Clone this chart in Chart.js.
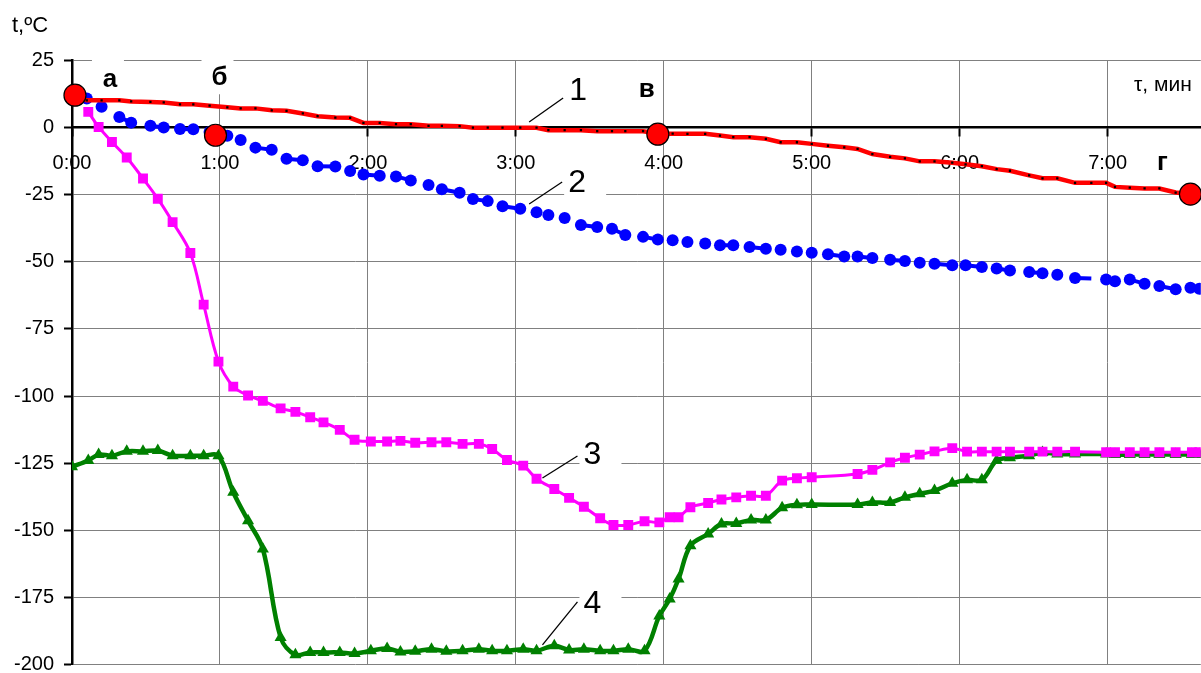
<!DOCTYPE html>
<html>
<head>
<meta charset="utf-8">
<title>t, ºC - τ, мин</title>
<script src="https://cdn.jsdelivr.net/npm/chart.js@4.4.1/dist/chart.umd.min.js"></script>
<style>
  html, body { margin: 0; padding: 0; background: #fff; overflow: hidden; }
  canvas { display: block; }
</style>
</head>
<body>
<canvas id="tempGraph" width="1201" height="673"></canvas>
<script>
// readings of curves 1 and 2, time in minutes
const timeUpper = [
    0.00, 0.10, 0.20, 0.32, 0.40, 0.53, 0.62, 0.73, 0.82, 0.93,
    1.05, 1.14, 1.24, 1.35, 1.45, 1.56, 1.66, 1.78, 1.88, 1.97,
    2.08, 2.19, 2.29, 2.41, 2.50, 2.62, 2.71, 2.81, 2.91, 3.03,
    3.14, 3.22, 3.33, 3.44, 3.55, 3.65, 3.74, 3.86, 3.96, 4.06,
    4.16, 4.28, 4.38, 4.47, 4.58, 4.69, 4.79, 4.90, 5.00, 5.11,
    5.22, 5.31, 5.41, 5.53, 5.63, 5.73, 5.83, 5.95, 6.04, 6.15,
    6.25, 6.34, 6.47, 6.56, 6.66, 6.78, 6.89, 6.99, 7.05, 7.15,
    7.25, 7.35, 7.46, 7.56, 7.62
];
const curve1 = [
    11.5, 10, 10, 10, 9.6, 9.4, 9.2, 8.5, 8.5, 8.0,
    7.4, 7.0, 7.0, 6.3, 6.1, 5.1, 4.1, 3.6, 3.5, 1.6,
    1.6, 1.1, 1.1, 0.5, 0.5, 0.4, -0.2, -0.2, -0.2, -0.2,
    -0.2, -1.1, -1.1, -1.1, -1.5, -1.5, -1.5, -1.5, -2.3, -2.4,
    -2.45, -2.45, -3.1, -3.7, -3.7, -4.3, -5.6, -5.6, -6.2, -6.9,
    -7.5, -8.1, -10, -11, -11.6, -12.7, -12.7, -13.2, -13.8, -14.5,
    -15.6, -16.2, -17.9, -19, -19, -20.7, -20.7, -20.7, -22.2, -22.5,
    -22.8, -22.8, -24.3, -24.9, -25.3
];
const curve2 = [
    11.5, 10.7, 7.6, 3.8, 1.7, 0.5, -0.1, -0.7, -0.8, -1.8,
    -3.2, -4.8, -7.6, -8.4, -11.7, -12.3, -14.5, -14.6, -16.3, -17.6,
    -18.1, -18.3, -19.8, -21.5, -23.1, -24.4, -26.7, -27.5, -29.4, -30.3,
    -31.6, -32.7, -33.8, -36.4, -37.1, -37.8, -40.1, -40.8, -41.8, -42.1,
    -42.7, -43.3, -43.9, -43.9, -44.6, -45.2, -45.6, -46.2, -46.7, -47.3,
    -48.1, -48.1, -48.7, -49.3, -49.8, -50.4, -50.8, -51.4, -51.4, -52.0,
    -52.6, -53.3, -53.9, -54.3, -54.9, -56.1, -56.3, -56.7, -57.3, -56.7,
    -58.2, -59.1, -60.3, -59.7, -60.1
];
// curve 2 is only joined between some neighbours (index of first point of the pair)
const curve2Links = [3, 5, 7, 12, 14, 16, 19, 21, 24, 26, 28, 33, 35, 37, 42, 44,
    49, 51, 53, 56, 58, 60, 62, 65, 67, 69, 71, 73];
const curve2NoMarker = [66];

// readings of curves 3 and 4 (own time grid, null = no reading)
const timeLower = [
    0.00, 0.11, 0.18, 0.27, 0.37, 0.48, 0.58, 0.68, 0.80, 0.89,
    0.99, 1.09, 1.19, 1.29, 1.41, 1.51, 1.61, 1.70, 1.81, 1.91,
    2.02, 2.13, 2.22, 2.32, 2.43, 2.53, 2.64, 2.75, 2.84, 2.94,
    3.05, 3.14, 3.26, 3.36, 3.46, 3.57, 3.66, 3.76, 3.87, 3.97,
    4.04, 4.10, 4.18, 4.30, 4.39, 4.49, 4.59, 4.69, 4.80, 4.90,
    5.00, 5.31, 5.41, 5.53, 5.63, 5.73, 5.83, 5.95, 6.05, 6.15,
    6.25, 6.34, 6.47, 6.56, 6.66, 6.78, 6.99, 7.05, 7.15, 7.25,
    7.35, 7.46, 7.57, 7.62
];
const curve3 = [
    null, 5.7, 0.1, -5.5, -11.3, -19.1, -26.6, -35.3, -46.8, -66,
    -87.2, -96.5, -99.8, -101.8, -104.6, -105.9, -107.9, -109.8, -112.6, -116.3,
    -116.9, -116.9, -116.7, -117.4, -117.2, -117.2, -117.8, -117.8, -119.7, -123.8,
    -125.9, -130.8, -134.6, -137.9, -141.2, -145.5, -148, -148, -146.6, -147,
    -145.1, -145.1, -141.4, -139.8, -138.5, -137.7, -137.1, -137.1, -131.5, -130.6,
    -130.2, -129, -127.5, -124.7, -123, -121.8, -120.6, -119.4, -120.7, -120.7,
    -120.7, -120.7, -120.7, -120.7, -120.7, -120.7, -120.9, -120.9, -120.9, -120.9,
    -120.9, -120.9, -120.9, -120.9
];
const curve4 = [
    -126.3, -124, -121.8, -122.2, -120.6, -120.6, -120.3, -122.2, -122.2, -122.2,
    -122.2, -135.8, -146.4, -156.9, -189.8, -196.3, -195.4, -195.4, -195.4, -195.8,
    -194.8, -193.9, -195.2, -195, -194.2, -195, -194.8, -194.2, -194.8, -194.8,
    -194.2, -194.8, -192.9, -194.5, -194.2, -194.8, -194.8, -194.2, -194.8, -181.8,
    -175.5, -168.1, -155.7, -151.3, -147.6, -147.4, -146.1, -146.1, -141.6, -140.5,
    -140.4, -140.4, -139.6, -139.6, -137.7, -136.4, -135.2, -132.5, -131.2, -131.2,
    -124, -123, -122.2, -121, -121.6, -121.6, -121.6, -121.8, -121.8, -121.8,
    -121.8, -121.8, -121.8, -121.8
];

// marked points а, б, в, г
const keyNames = ['а', 'б', 'в', 'г'];
const keyTime = [0.02, 0.97, 3.96, 7.56];
const keyTemp = [11.9, -3.0, -2.6, -24.9];

const xTickLabels = ['0:00', '1:00', '2:00', '3:00', '4:00', '5:00', '6:00', '7:00'];

const FONT = 'Arial, "Liberation Sans", sans-serif';
Chart.defaults.font.family = FONT;
Chart.defaults.color = '#000';

// the picture is a crop: plot area ends at these pixels of the 1201x673 view
const PLOT_RIGHT = 1201;
const PLOT_BOTTOM = 665;

function pairs(times, values) {
    return values.map((v, i) => ({ x: times[i], y: v }));
}

// where the letters sit relative to their circle (px)
const keyOffsets = [[35, -15], [4, -57], [-11, -44], [-28, -31]];
// curve numbers with leader lines: start on the curve, leader end offset
const callouts = [
    { text: '1', t: 3.09, v: 1.9, dx: 34, dy: -24, ty: -8 },
    { text: '2', t: 3.09, v: -28.6, dx: 33, dy: -22, ty: 0 },
    { text: '3', t: 3.18, v: -130.5, dx: 35, dy: -22, ty: -2 },
    { text: '4', t: 3.18, v: -192.6, dx: 35, dy: -43, ty: 1 }
];

const textLayer = {
    id: 'textLayer',
    beforeDatasetsDraw(chart) {
        // white label boxes break the grid lines as in the original
        const { ctx, scales: { x, y } } = chart;
        ctx.save();
        ctx.fillStyle = '#fff';
        keyNames.forEach((name, i) => {
            if (i > 1) return;
            const cx = x.getPixelForValue(keyTime[i]) + keyOffsets[i][0];
            const cy = y.getPixelForValue(keyTemp[i]) + keyOffsets[i][1];
            ctx.fillRect(cx - 18, cy - 24, 32, 40);
        });
        callouts.forEach(c => {
            const ex = x.getPixelForValue(c.t) + c.dx;
            const ey = y.getPixelForValue(c.v) + c.dy + c.ty;
            ctx.fillRect(ex + 2, ey - 20, 42, 40);
        });
        ctx.restore();
    },
    afterDatasetsDraw(chart) {
        const { ctx, chartArea, scales: { x, y } } = chart;
        ctx.save();
        ctx.fillStyle = '#000';
        ctx.textBaseline = 'middle';

        ctx.font = '22px ' + FONT;
        ctx.textAlign = 'left';
        ctx.fillText('t,ºC', 12, chartArea.top - 34);

        ctx.font = '21px ' + FONT;
        ctx.textAlign = 'right';
        ctx.fillText('τ, мин', chartArea.right - 9, y.getPixelForValue(0) - 42);

        ctx.font = 'bold 26px ' + FONT;
        ctx.textAlign = 'center';
        keyNames.forEach((name, i) => {
            const cx = x.getPixelForValue(keyTime[i]) + keyOffsets[i][0];
            const cy = y.getPixelForValue(keyTemp[i]) + keyOffsets[i][1];
            ctx.fillText(name, cx, cy);
        });

        ctx.font = '32px ' + FONT;
        ctx.textAlign = 'left';
        ctx.strokeStyle = '#000';
        ctx.lineWidth = 1.3;
        callouts.forEach(c => {
            const sx = x.getPixelForValue(c.t);
            const sy = y.getPixelForValue(c.v);
            ctx.beginPath();
            ctx.moveTo(sx, sy);
            ctx.lineTo(sx + c.dx, sy + c.dy);
            ctx.stroke();
            ctx.fillText(c.text, sx + c.dx + 6, sy + c.dy + c.ty + 1);
        });
        ctx.restore();
    }
};

function buildConfig() {
    return {
        type: 'line',
        data: {
            datasets: [
                {
                    label: 'а-б-в-г',
                    data: pairs(keyTime, keyTemp),
                    showLine: false,
                    clip: false,
                    pointRadius: 11,
                    pointBackgroundColor: '#ff0000',
                    pointBorderColor: '#000',
                    pointBorderWidth: 1.2
                },
                {
                    label: '1',
                    data: pairs(timeUpper, curve1),
                    borderColor: '#ff0000',
                    borderWidth: 4.5,
                    tension: 0,
                    pointStyle: 'rect',
                    pointRadius: 1.6,
                    pointBackgroundColor: '#000',
                    pointBorderWidth: 0
                },
                {
                    label: '2',
                    data: pairs(timeUpper, curve2),
                    borderColor: '#0000ff',
                    borderWidth: 4,
                    tension: 0,
                    pointRadius: c => curve2NoMarker.includes(c.dataIndex) ? 0 : 6,
                    pointBackgroundColor: '#0000ff',
                    pointBorderWidth: 0,
                    segment: {
                        borderColor: c => curve2Links.includes(c.p0DataIndex) ? '#0000ff' : 'rgba(0,0,0,0)'
                    }
                },
                {
                    label: '3',
                    data: pairs(timeLower, curve3),
                    borderColor: '#ff00ff',
                    borderWidth: 3,
                    tension: 0.35,
                    spanGaps: true,
                    pointStyle: 'rect',
                    pointRadius: 7,
                    pointBackgroundColor: '#ff00ff',
                    pointBorderWidth: 0
                },
                {
                    label: '4',
                    data: pairs(timeLower, curve4),
                    borderColor: '#008000',
                    borderWidth: 4.5,
                    tension: 0.35,
                    spanGaps: true,
                    pointStyle: 'triangle',
                    pointRadius: 7,
                    pointBackgroundColor: '#008000',
                    pointBorderWidth: 0
                }
            ]
        },
        options: {
            responsive: false,
            animation: false,
            devicePixelRatio: 1,
            events: [],
            layout: { padding: { top: 60, right: 0, bottom: 8, left: 0 } },
            plugins: {
                legend: { display: false },
                tooltip: { enabled: false }
            },
            scales: {
                x: {
                    type: 'linear',
                    min: 0,
                    max: 7.63,
                    position: { y: 0 },
                    afterFit: scale => { scale.paddingLeft = 0; scale.paddingRight = 0; },
                    ticks: {
                        stepSize: 1,
                        includeBounds: false,
                        autoSkip: false,
                        maxRotation: 0,
                        padding: 16,
                        font: { size: 20 },
                        callback: v => xTickLabels[v] ?? ''
                    },
                    grid: { color: '#808080', lineWidth: 1, tickColor: '#000', tickLength: 8, tickWidth: 2 },
                    border: { color: '#000', width: 2.5 }
                },
                y: {
                    type: 'linear',
                    min: -200,
                    max: 25,
                    afterFit: scale => {
                        scale.width = 72;
                        scale.paddingTop = 0;
                        scale.paddingBottom = 0;
                    },
                    ticks: {
                        stepSize: 25,
                        padding: 10,
                        font: { size: 20 }
                    },
                    grid: { color: '#808080', lineWidth: 1, tickColor: '#000', tickLength: 8, tickWidth: 2 },
                    border: { color: '#000', width: 2.5 }
                }
            }
        },
        plugins: [textLayer]
    };
}

const canvas = document.getElementById('tempGraph');
let w = 1201, h = 673;
let chart = new Chart(canvas, buildConfig());
// Chart.js keeps a few px free at the right/bottom; widen the canvas so the plot
// area still ends where the cropped original ends
for (let pass = 0; pass < 3; pass++) {
    const dx = Math.round(PLOT_RIGHT - chart.chartArea.right);
    const dy = Math.round(PLOT_BOTTOM - chart.chartArea.bottom);
    if (!dx && !dy) break;
    chart.destroy();
    w += dx;
    h += dy;
    canvas.width = w;
    canvas.height = h;
    chart = new Chart(canvas, buildConfig());
}
</script>
</body>
</html>
